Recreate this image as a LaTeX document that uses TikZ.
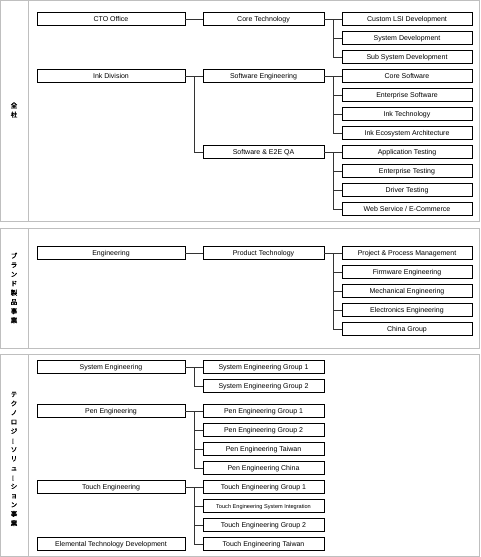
\documentclass[tikz,border=0pt]{standalone}
\usepackage{fontspec}
\setmainfont{Liberation Sans}
\newfontfamily\jpfont[FakeBold=1.5]{Noto Sans CJK JP}
\usetikzlibrary{positioning}

\begin{document}
\begin{tikzpicture}
[x=1pt, y=-1pt,
 unit/.style={draw=black, line width=0.9pt, minimum height=13pt, inner sep=0pt,
              text height=5pt, text depth=0pt, font=\fontsize{7}{8}\selectfont},
 head/.style={unit, minimum width=148pt},
 dept/.style={unit, minimum width=121pt},
 team/.style={unit, minimum width=130pt},
 link/.style={draw=black!80, line width=0.8pt},
 panel/.style={draw=black!25, line width=0.8pt},
 side/.style={align=center, font=\jpfont\fontsize{6.5}{9.2}\selectfont, inner sep=0pt}]
\useasboundingbox (0,0) rectangle (481,557);

% panels
\draw[panel] (0.5,0.5) rectangle (479.5,221);
\draw[panel] (28,0.5) -- (28,221);
\draw[panel] (0.5,228) rectangle (479.5,348);
\draw[panel] (28,228) -- (28,348);
\draw[panel] (0.5,354) rectangle (479.5,556.5);
\draw[panel] (28,354) -- (28,556.5);

\node[side] (lblA) at (14,110) {全\\社};
\node[side] (lblB) at (14,288) {ブ\\ラ\\ン\\ド\\製\\品\\事\\業};
\node[side] (lblC) at (14,459) {テ\\ク\\ノ\\ロ\\ジ\\\rotatebox[origin=c]{90}{ー}\\ソ\\リ\\ュ\\\rotatebox[origin=c]{90}{ー}\\シ\\ョ\\ン\\事\\業};

% panel 1
\node[head] (cto) at (111,19) {CTO Office};
\node[head] (ink) at (111,76) {Ink Division};
\node[dept] (coretech) at (263.5,19) {Core Technology};
\node[dept] (sweng) at (263.5,76) {Software Engineering};
\node[dept] (swqa) at (263.5,152) {Software \& E2E QA};
\node[team] (lsi) at (407,19) {Custom LSI Development};
\node[team] (sysdev) at (407,38) {System Development};
\node[team] (subsys) at (407,57) {Sub System Development};
\node[team] (coresw) at (407,76) {Core Software};
\node[team] (entsw) at (407,95) {Enterprise Software};
\node[team] (inktech) at (407,114) {Ink Technology};
\node[team] (inkeco) at (407,133) {Ink Ecosystem Architecture};
\node[team] (apptest) at (407,152) {Application Testing};
\node[team] (enttest) at (407,171) {Enterprise Testing};
\node[team] (drvtest) at (407,190) {Driver Testing};
\node[team] (websvc) at (407,209) {Web Service / E-Commerce};

\draw[link] (cto.east) -- (coretech.west);
\draw[link] (ink.east) -- (sweng.west);
\draw[link] (ink.east) ++(9,0) |- (swqa.west);
\draw[link] (coretech.east) -- (lsi.west);
\foreach \t in {sysdev,subsys}
  \draw[link] (coretech.east) ++(9,0) |- (\t.west);
\draw[link] (sweng.east) -- (coresw.west);
\foreach \t in {entsw,inktech,inkeco}
  \draw[link] (sweng.east) ++(9,0) |- (\t.west);
\draw[link] (swqa.east) -- (apptest.west);
\foreach \t in {enttest,drvtest,websvc}
  \draw[link] (swqa.east) ++(9,0) |- (\t.west);

% panel 2
\node[head] (eng) at (111,253) {Engineering};
\node[dept] (prodtech) at (263.5,253) {Product Technology};
\node[team] (ppm) at (407,253) {Project \& Process Management};
\node[team] (fwe) at (407,272) {Firmware Engineering};
\node[team] (mech) at (407,291) {Mechanical Engineering};
\node[team] (elec) at (407,310) {Electronics Engineering};
\node[team] (china) at (407,329) {China Group};

\draw[link] (eng.east) -- (prodtech.west);
\draw[link] (prodtech.east) -- (ppm.west);
\foreach \t in {fwe,mech,elec,china}
  \draw[link] (prodtech.east) ++(9,0) |- (\t.west);

% panel 3
\node[head] (syseng) at (111,367) {System Engineering};
\node[head] (peneng) at (111,411) {Pen Engineering};
\node[head] (toucheng) at (111,487) {Touch Engineering};
\node[head] (elemtech) at (111,544) {Elemental Technology Development};
\node[dept] (seg1) at (263.5,367) {System Engineering Group 1};
\node[dept] (seg2) at (263.5,386) {System Engineering Group 2};
\node[dept] (peg1) at (263.5,411) {Pen Engineering Group 1};
\node[dept] (peg2) at (263.5,430) {Pen Engineering Group 2};
\node[dept] (pentw) at (263.5,449) {Pen Engineering Taiwan};
\node[dept] (pencn) at (263.5,468) {Pen Engineering China};
\node[dept] (teg1) at (263.5,487) {Touch Engineering Group 1};
\node[dept, font=\fontsize{5.6}{7}\selectfont, text height=4pt] (tesi) at (263.5,506) {Touch Engineering System Integration};
\node[dept] (teg2) at (263.5,525) {Touch Engineering Group 2};
\node[dept] (tetw) at (263.5,544) {Touch Engineering Taiwan};

\draw[link] (syseng.east) -- (seg1.west);
\draw[link] (syseng.east) ++(9,0) |- (seg2.west);
\draw[link] (peneng.east) -- (peg1.west);
\foreach \t in {peg2,pentw,pencn}
  \draw[link] (peneng.east) ++(9,0) |- (\t.west);
\draw[link] (toucheng.east) -- (teg1.west);
\foreach \t in {tesi,teg2,tetw}
  \draw[link] (toucheng.east) ++(9,0) |- (\t.west);
\end{tikzpicture}
\end{document}
